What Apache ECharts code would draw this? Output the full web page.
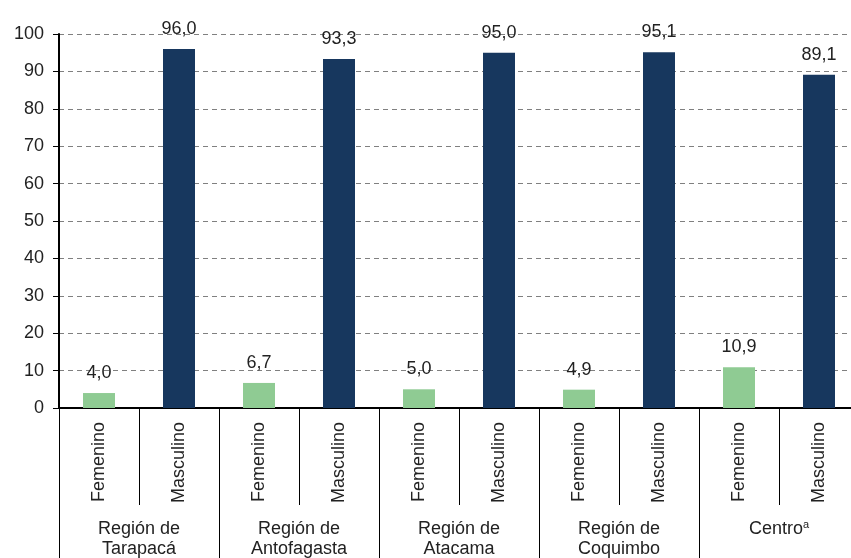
<!DOCTYPE html>
<html><head><meta charset="utf-8">
<script src="https://cdn.jsdelivr.net/npm/echarts@6/dist/echarts.min.js"></script>
<style>html,body{margin:0;padding:0;background:#fff}#c{width:851px;height:558px}</style>
</head><body><div id="c"></div>
<script>
const subCategories = ['Femenino','Masculino','Femenino','Masculino','Femenino','Masculino','Femenino','Masculino','Femenino','Masculino'];
const groups = ['Región de\nTarapacá','Región de\nAntofagasta','Región de\nAtacama','Región de\nCoquimbo','Centro{sup|a}'];
const values = [4.0, 96.0, 6.7, 93.3, 5.0, 95.0, 4.9, 95.1, 10.9, 89.1];
const yTicks = [0,10,20,30,40,50,60,70,80,90,100];

const GREEN = '#8fcb93', NAVY = '#17375e';
const FONT = 'Liberation Sans, Arial, sans-serif';
const chart = echarts.init(document.getElementById('c'), null, {renderer:'canvas'});
const data = values.map((v,i)=>({value:v, itemStyle:{color: subCategories[i]==='Femenino'?GREEN:NAVY}}));
chart.setOption({
  animation:false,
  grid:{left:59, top:34, bottom:150, width:800, containLabel:false, outerBoundsMode:'none'},
  xAxis:[{
    type:'category', data:subCategories, position:'bottom',
    axisLine:{show:true, lineStyle:{color:'#000', width:2}},
    axisTick:{show:true, interval:0, length:97, lineStyle:{color:'#000', width:1}},
    axisLabel:{interval:0, rotate:90, margin:14, fontSize:18, color:'#222', fontFamily:FONT}
  },{
    type:'category', data:groups, position:'bottom', offset:0,
    axisLine:{show:false},
    axisTick:{show:true, interval:0, length:150, lineStyle:{color:'#000', width:1}},
    axisLabel:{interval:0, margin:111, fontSize:18, lineHeight:20, color:'#222', fontFamily:FONT,
      rich:{sup:{fontSize:11, verticalAlign:'top', color:'#222', fontFamily:FONT, padding:[0,0,8,0]}}}
  }],
  yAxis:{
    type:'value', min:0, max:100, interval:10,
    axisLine:{show:true, lineStyle:{color:'#000', width:2}},
    axisTick:{show:true, length:6, lineStyle:{color:'#000'}},
    axisLabel:{fontSize:18, color:'#222', margin:15, fontFamily:FONT},
    splitLine:{lineStyle:{color:'#808080', type:[5,4], width:1}}
  },
  series:[{
    type:'bar', data:data, barWidth:32, xAxisIndex:0,
    label:{show:true, position:'top', distance:11, fontSize:18, color:'#222', fontFamily:FONT,
      formatter:p=>p.value.toFixed(1).replace('.',',')}
  }]
});
</script></body></html>
